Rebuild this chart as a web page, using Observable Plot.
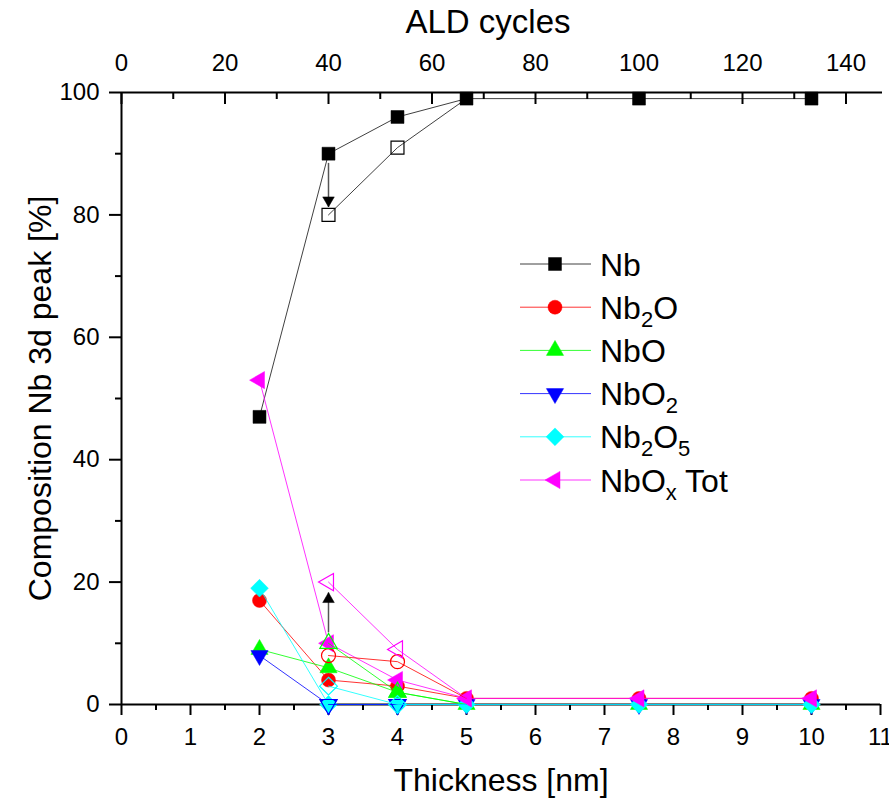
<!DOCTYPE html>
<html>
<head>
<meta charset="utf-8">
<script src="https://cdn.jsdelivr.net/npm/d3@7"></script>
<script src="https://cdn.jsdelivr.net/npm/@observablehq/plot@0.6"></script>
<style>
  html, body { margin: 0; padding: 0; background: #fff; }
  #wrap { position: relative; width: 889px; height: 802px; font-family: "Liberation Sans", Arial, sans-serif; }
  #legend { position: absolute; left: 0; top: 0; pointer-events: none; }
</style>
</head>
<body>
<div id="wrap"></div>
<script>
// ---------- data ----------
const thickness = [2, 3, 4, 5, 7.5, 10];          // nm
const nb        = [47, 90, 96, 99, 99, 99];
const nb2o      = [17, 4, 3, 1, 1, 1];
const nbo       = [9, 6, 2, 0, 0, 0];
const nbo2      = [8, 0, 0, 0, 0, 0];
const nb2o5     = [19, 0, 0, 0, 0, 0];
const nboxTot   = [53, 10, 4, 1, 1, 1];

// second (open-symbol) measurement
const thicknessAfter = [3, 4, 5];
const nbAfter        = [80, 91, 99];
const nb2oAfter      = [8, 7, 1];
const nboAfter       = [10, 2, 0];
const nbo2After      = [0, 0, 0];
const nb2o5After     = [3, 0, 0];
const nboxTotAfter   = [20, 9, 1];

// arrows (thickness, from %, to %)
const arrowX    = [3, 3];
const arrowFrom = [88.5, 11.8];
const arrowTo   = [81.3, 18.3];

// axes
const xTicks      = [0, 1, 2, 3, 4, 5, 6, 7, 8, 9, 10, 11];
const xMinorTicks = [0.5, 1.5, 2.5, 3.5, 4.5, 5.5, 6.5, 7.5, 8.5, 9.5, 10.5];
const yTicks      = [0, 20, 40, 60, 80, 100];
const yMinorTicks = [10, 30, 50, 70, 90];
const cycleTicks      = [0, 20, 40, 60, 80, 100, 120, 140];
const cycleMinorTicks = [10, 30, 50, 70, 90, 110, 130];
const cyclesPerNm = 40 / 3;   // 40 cycles = 3 nm

const seriesNames  = ["Nb", "Nb2O", "NbO", "NbO2", "Nb2O5", "NbOx Tot"];
const seriesColors = ["#000000", "#ff0000", "#00ff00", "#0000ff", "#00ffff", "#ff00ff"];
const seriesSymbols = ["square", "circle", "triangle", "triangle", "diamond2", "triangle"];
const seriesRotate  = [0, 0, 0, 180, 0, -90];
const seriesR       = [7.3, 7, 6.4, 6.4, 8, 6.4];

const before = [nb, nb2o, nbo, nbo2, nb2o5, nboxTot];
const after  = [nbAfter, nb2oAfter, nboAfter, nbo2After, nb2o5After, nboxTotAfter];

// ---------- chart ----------
const W = 889, H = 802;
const FONT = '"Liberation Sans", Arial, sans-serif';
const marks = [];

// axis lines
marks.push(Plot.ruleY([0], {strokeWidth: 2}));
marks.push(Plot.ruleY([100], {strokeWidth: 2, insetRight: -2}));
marks.push(Plot.ruleX([0], {strokeWidth: 2}));

// bottom axis
marks.push(Plot.axisX({anchor: "bottom", ticks: xTicks, tickSize: 11, tickPadding: 12, fontSize: 24, strokeWidth: 2, label: null}));
marks.push(Plot.axisX({anchor: "bottom", ticks: xMinorTicks, tickSize: 6, tickFormat: () => "", strokeWidth: 2, label: null}));
// left axis
marks.push(Plot.axisY({anchor: "left", ticks: yTicks, tickSize: 12, tickPadding: 10, fontSize: 24, strokeWidth: 2, label: null}));
marks.push(Plot.axisY({anchor: "left", ticks: yMinorTicks, tickSize: 6, tickFormat: () => "", strokeWidth: 2, label: null}));
// top axis (ALD cycles), inward ticks
marks.push(Plot.axisX({anchor: "top", ticks: cycleTicks.map(c => c / cyclesPerNm), tickSize: -11, tickFormat: () => "", strokeWidth: 2, label: null}));
marks.push(Plot.axisX({anchor: "top", ticks: cycleMinorTicks.map(c => c / cyclesPerNm), tickSize: -6, tickFormat: () => "", strokeWidth: 2, label: null}));
marks.push(Plot.axisX({anchor: "top", ticks: cycleTicks.map(c => c / cyclesPerNm), tickSize: 0, tickPadding: 22, fontSize: 24,
  tickFormat: d => String(Math.round(d * cyclesPerNm)), label: null}));

// titles
marks.push(Plot.text(["ALD cycles"], {text: d => d, frameAnchor: "top", textAnchor: "middle", lineAnchor: "middle", dx: -13, dy: -70, fontSize: 33}));
marks.push(Plot.text(["Thickness [nm]"], {text: d => d, frameAnchor: "bottom", textAnchor: "middle", lineAnchor: "middle", dy: 76, fontSize: 32}));
marks.push(Plot.text(["Composition Nb 3d peak [%]"], {text: d => d, frameAnchor: "left", textAnchor: "middle", lineAnchor: "middle", dx: -81, rotate: -90, fontSize: 32}));

// filled series
before.forEach((vals, i) => {
  marks.push(Plot.line(thickness, {x: thickness, y: vals, stroke: seriesColors[i], strokeWidth: 1, strokeOpacity: i === 0 ? 0.75 : 0.8}));
  marks.push(Plot.dot(thickness, {x: thickness, y: vals, symbol: seriesSymbols[i], r: seriesR[i], rotate: seriesRotate[i],
    fill: seriesColors[i], stroke: seriesColors[i], strokeWidth: 0.5}));
});
// open series
after.forEach((vals, i) => {
  marks.push(Plot.line(thicknessAfter, {x: thicknessAfter, y: vals, stroke: seriesColors[i], strokeWidth: 1, strokeOpacity: i === 0 ? 0.75 : 0.8}));
  marks.push(Plot.dot(thicknessAfter.slice(0, 2), {x: thicknessAfter.slice(0, 2), y: vals.slice(0, 2), symbol: seriesSymbols[i], r: seriesR[i], rotate: seriesRotate[i],
    fill: "none", stroke: seriesColors[i], strokeWidth: 1.2}));
});

// arrows
marks.push(Plot.link(arrowX, {x1: arrowX, y1: arrowFrom, x2: arrowX, y2: arrowTo, stroke: "#555", strokeWidth: 1.5}));
marks.push(Plot.dot([0], {x: [arrowX[0]], y: [arrowTo[0]], symbol: "triangle", rotate: 180, r: 4.3, dy: -6.7, fill: "#000", stroke: "#000", strokeWidth: 0.5}));
marks.push(Plot.dot([0], {x: [arrowX[1]], y: [arrowTo[1]], symbol: "triangle", rotate: 0, r: 4.3, dy: 6.7, fill: "#000", stroke: "#000", strokeWidth: 0.5}));

const chart = Plot.plot({
  width: W, height: H,
  marginLeft: 121, marginRight: 9, marginTop: 92, marginBottom: 98,
  x: {domain: [0, 11]},
  y: {domain: [0, 100]},
  style: {fontFamily: FONT, background: "#fff", overflow: "visible", color: "#000"},
  marks
});
const wrap = document.getElementById("wrap");
wrap.appendChild(chart);

// ---------- legend (inside the plot) ----------
const legendLabels = [
  [["Nb", false]],
  [["Nb", false], ["2", true], ["O", false]],
  [["NbO", false]],
  [["NbO", false], ["2", true]],
  [["Nb", false], ["2", true], ["O", false], ["5", true]],
  [["NbO", false], ["x", true], [" Tot", false]]
];
const symMap = {square: d3.symbolSquare, circle: d3.symbolCircle, triangle: d3.symbolTriangle, diamond2: d3.symbolDiamond2};
const leg = d3.select(wrap).append("svg").attr("id", "legend").attr("width", W).attr("height", H)
  .style("font-family", FONT);
const legX0 = 520, legX1 = 591, legSym = 555, legText = 600, legY0 = 264, legStep = 43.2;
seriesNames.forEach((name, i) => {
  const y = legY0 + i * legStep;
  const g = leg.append("g");
  g.append("line").attr("x1", legX0).attr("x2", legX1).attr("y1", y).attr("y2", y)
    .attr("stroke", seriesColors[i]).attr("stroke-width", 1).attr("stroke-opacity", i === 0 ? 0.75 : 0.8);
  g.append("path")
    .attr("d", d3.symbol(symMap[seriesSymbols[i]], Math.PI * seriesR[i] * seriesR[i])())
    .attr("transform", `translate(${legSym},${y}) rotate(${seriesRotate[i]})`)
    .attr("fill", seriesColors[i]).attr("stroke", seriesColors[i]).attr("stroke-width", 0.5);
  const t = g.append("text").attr("x", legText).attr("y", y + 11.5).attr("font-size", 32).attr("fill", "#000");
  let prevSub = false;
  legendLabels[i].forEach(([s, sub]) => {
    const ts = t.append("tspan").text(s);
    if (sub) { ts.attr("font-size", 22).attr("dy", 8); }
    else if (prevSub) { ts.attr("dy", -8); }
    prevSub = sub;
  });
});
</script>
</body>
</html>
